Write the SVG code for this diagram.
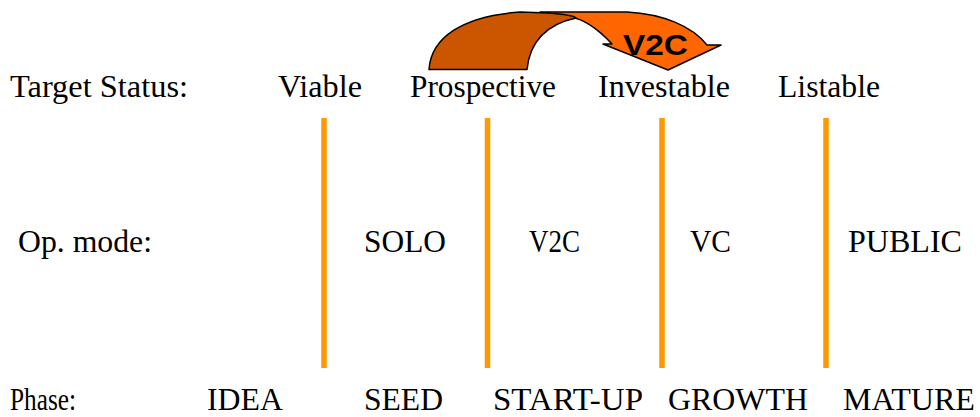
<svg xmlns="http://www.w3.org/2000/svg" width="980" height="417" viewBox="0 0 980 417">
<style>
.t{font-family:"Liberation Serif","Times New Roman",serif;font-size:31px;fill:#000}
.p{font-family:"Liberation Serif","Times New Roman",serif;font-size:28px;fill:#000}
.div{stroke:#FF9900;stroke-width:5.5}
.v2c{font-family:"Liberation Sans",Arial,sans-serif;font-size:29px;font-weight:bold;fill:#000}
</style>
<rect width="980" height="417" fill="#fff"/>
<g id="arrow">
<path d="M540,12 L627,12 C663,14 692,26 707,45 L721,45 L668,70 L603,44 L612,44 C598,29 585,19 570,17 Z" fill="#FF6600" stroke="#000" stroke-width="1.5" stroke-linejoin="round"/>
<path d="M429,69.5 C431,38 462,16 520,12 L548,13 C563,14 573,15 576,18 C548,24 530,40 527,69.5 Z" fill="#CC5500" stroke="#000" stroke-width="1.5" stroke-linejoin="round"/>
<text class="v2c" x="623" y="55" textLength="65" lengthAdjust="spacingAndGlyphs">V2C</text>
</g>
<g id="connectors">
<line class="div" x1="324" y1="118" x2="324" y2="368"/>
<line class="div" x1="487.5" y1="118" x2="487.5" y2="368"/>
<line class="div" x1="662" y1="118" x2="662" y2="368"/>
<line class="div" x1="826" y1="118" x2="826" y2="368"/>
</g>
<g id="target-status">
<text class="t" x="10" y="97" textLength="178" lengthAdjust="spacingAndGlyphs">Target Status:</text>
<text class="t" x="278" y="97" textLength="84" lengthAdjust="spacingAndGlyphs">Viable</text>
<text class="t" x="410" y="97" textLength="146" lengthAdjust="spacingAndGlyphs">Prospective</text>
<text class="t" x="598" y="97" textLength="132" lengthAdjust="spacingAndGlyphs">Investable</text>
<text class="t" x="778" y="97" textLength="102" lengthAdjust="spacingAndGlyphs">Listable</text>
</g>
<g id="op-mode">
<text class="t" x="18" y="252" textLength="134" lengthAdjust="spacingAndGlyphs">Op. mode:</text>
<text class="t" x="364" y="252" textLength="82" lengthAdjust="spacingAndGlyphs">SOLO</text>
<text class="t" x="529" y="252" textLength="51" lengthAdjust="spacingAndGlyphs">V2C</text>
<text class="t" x="690" y="252" textLength="41" lengthAdjust="spacingAndGlyphs">VC</text>
<text class="t" x="848" y="252" textLength="114" lengthAdjust="spacingAndGlyphs">PUBLIC</text>
</g>
<g id="phase" transform="translate(0,410) scale(1,1.12) translate(0,-410)">
<text class="p" x="10" y="410" textLength="66" lengthAdjust="spacingAndGlyphs">Phase:</text>
<text class="p" x="207" y="410" textLength="76" lengthAdjust="spacingAndGlyphs">IDEA</text>
<text class="p" x="364" y="410" textLength="79" lengthAdjust="spacingAndGlyphs">SEED</text>
<text class="p" x="493" y="410" textLength="150" lengthAdjust="spacingAndGlyphs">START-UP</text>
<text class="p" x="668" y="410" textLength="140" lengthAdjust="spacingAndGlyphs">GROWTH</text>
<text class="p" x="843" y="410" textLength="132" lengthAdjust="spacingAndGlyphs">MATURE</text>
</g>
</svg>
